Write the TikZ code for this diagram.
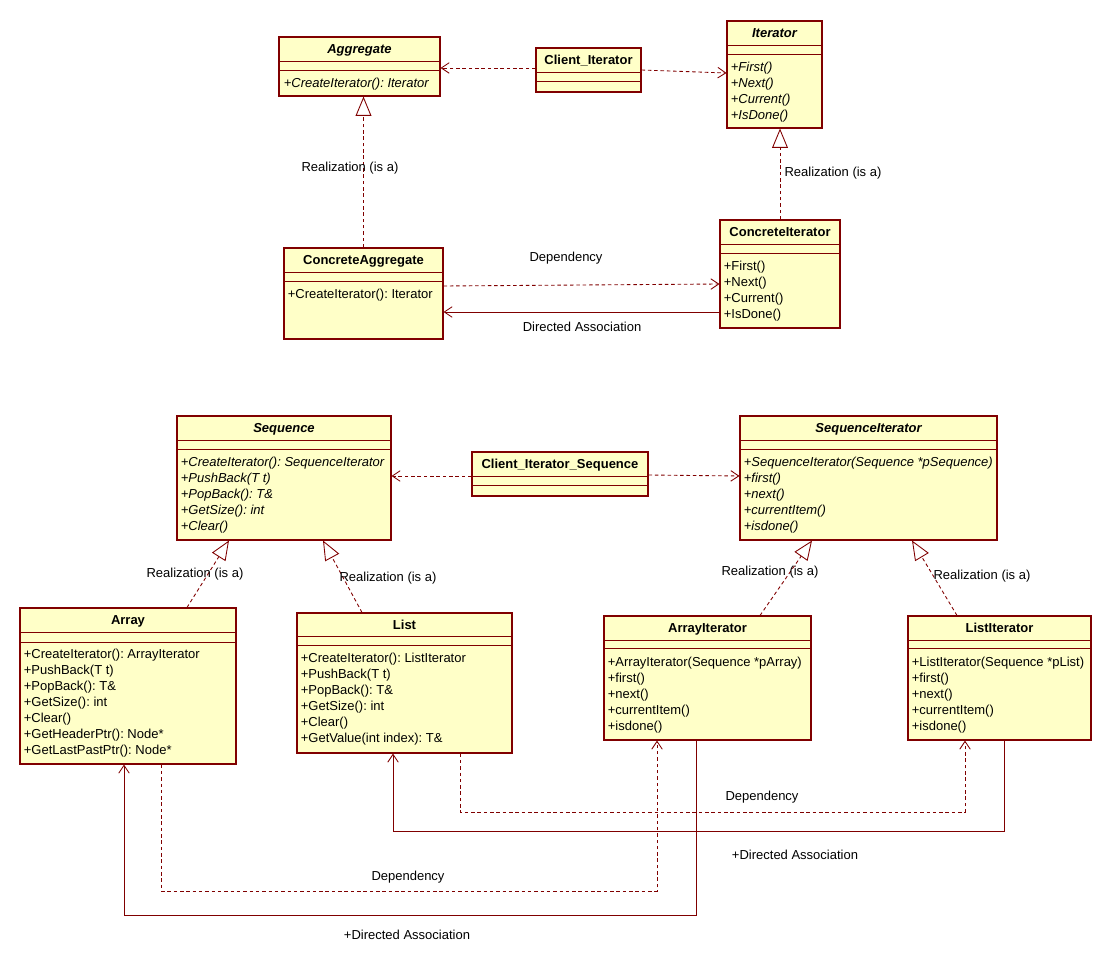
\documentclass[tikz,border=0pt]{standalone}
\usepackage{fontspec}
\setmainfont{Liberation Sans}
\frenchspacing
\usetikzlibrary{arrows.meta,calc,fit}

\definecolor{umlred}{RGB}{128,0,0}
\definecolor{umlfill}{RGB}{255,255,200}

\tikzset{
  cls/.style={draw=umlred, fill=umlfill, line width=0.6pt, inner sep=0pt},
  cline/.style={draw=umlred, line width=0.6pt},
  ttl/.style={anchor=base, inner sep=0pt, font=\fontsize{7.4}{9}\selectfont\bfseries},
  ttla/.style={ttl, font=\fontsize{7.4}{9}\selectfont\bfseries\itshape},
  op/.style={anchor=base west, inner sep=0pt, font=\fontsize{7.4}{9}\selectfont},
  opa/.style={op, font=\fontsize{7.4}{9}\selectfont\itshape},
  lbl/.style={inner sep=0pt, font=\fontsize{7.4}{9}\selectfont},
  dep/.style={draw=umlred, line width=0.5pt, dash pattern=on 2pt off 1.6pt,
    -{Straight Barb[length=4.5pt,width=6pt]}},
  assoc/.style={draw=umlred, line width=0.5pt, -{Straight Barb[length=4.5pt,width=6pt]}},
  real/.style={draw=umlred, line width=0.5pt, dash pattern=on 2pt off 1.6pt,
    -{Triangle[open,length=11pt,width=9pt]}}
}

\begin{document}
\begin{tikzpicture}[x=0.02cm, y=-0.02cm]
  \useasboundingbox (0,0) rectangle (1111,962);

  % top: Aggregate / Iterator
  \node[cls, fit={(279,37) (440,96)}] (aggr) {};
  \node[ttla] (aggr-t) at ($(aggr.north)+(0,17)$) {Aggregate};
  \draw[cline] ($(aggr.north west)+(0,25)$) -- ($(aggr.north east)+(0,25)$);
  \draw[cline] ($(aggr.north west)+(0,34)$) -- ($(aggr.north east)+(0,34)$);
  \node[opa] (aggr-0) at ($(aggr.north west)+(5,51)$) {+CreateIterator(): Iterator};

  \node[cls, fit={(536,48) (641,92)}] (cli) {};
  \node[ttl] (cli-t) at ($(cli.north)+(0,17)$) {Client\_Iterator};
  \draw[cline] ($(cli.north west)+(0,25)$) -- ($(cli.north east)+(0,25)$);
  \draw[cline] ($(cli.north west)+(0,34)$) -- ($(cli.north east)+(0,34)$);

  \node[cls, fit={(727,21) (822,128)}] (iter) {};
  \node[ttla] (iter-t) at ($(iter.north)+(0,17)$) {Iterator};
  \draw[cline] ($(iter.north west)+(0,25)$) -- ($(iter.north east)+(0,25)$);
  \draw[cline] ($(iter.north west)+(0,34)$) -- ($(iter.north east)+(0,34)$);
  \foreach \m [count=\i from 0] in {+First(),+Next(),+Current(),+IsDone()}
    \node[opa] (iter-\i) at ($(iter.north west)+(4,51+16*\i)$) {\m};

  \node[cls, fit={(284,248) (443,339)}] (caggr) {};
  \node[ttl] (caggr-t) at ($(caggr.north)+(0,17)$) {ConcreteAggregate};
  \draw[cline] ($(caggr.north west)+(0,25)$) -- ($(caggr.north east)+(0,25)$);
  \draw[cline] ($(caggr.north west)+(0,34)$) -- ($(caggr.north east)+(0,34)$);
  \node[op] (caggr-0) at ($(caggr.north west)+(4,51)$) {+CreateIterator(): Iterator};

  \node[cls, fit={(720,220) (840,328)}] (citer) {};
  \node[ttl] (citer-t) at ($(citer.north)+(0,17)$) {ConcreteIterator};
  \draw[cline] ($(citer.north west)+(0,25)$) -- ($(citer.north east)+(0,25)$);
  \draw[cline] ($(citer.north west)+(0,34)$) -- ($(citer.north east)+(0,34)$);
  \foreach \m [count=\i from 0] in {+First(),+Next(),+Current(),+IsDone()}
    \node[op] (citer-\i) at ($(citer.north west)+(4,51+16*\i)$) {\m};

  \draw[dep] (cli.west |- 0,68) -- (aggr.east |- 0,68);
  \draw[dep] (cli.east |- 0,70) -- (iter.west |- 0,73);
  \draw[real] (caggr.north) -- (caggr.north |- aggr.south);
  \draw[real] (citer.north) -- (citer.north |- iter.south);
  \draw[dep] (caggr.east |- 0,286) -- (citer.west |- 0,284);
  \draw[assoc] (citer.west |- 0,312) -- (caggr.east |- 0,312);

  \node[lbl] (l1) at (350,168) {Realization (is a)};
  \node[lbl] (l2) at (833,173) {Realization (is a)};
  \node[lbl] (l3) at (566,258) {Dependency};
  \node[lbl] (l4) at (582,327) {Directed Association};

  % bottom: Sequence / SequenceIterator
  \node[cls, fit={(177,416) (391,540)}] (seq) {};
  \node[ttla] (seq-t) at ($(seq.north)+(0,17)$) {Sequence};
  \draw[cline] ($(seq.north west)+(0,25)$) -- ($(seq.north east)+(0,25)$);
  \draw[cline] ($(seq.north west)+(0,34)$) -- ($(seq.north east)+(0,34)$);
  \foreach \m [count=\i from 0] in {+CreateIterator(): SequenceIterator,+PushBack(T t),+PopBack(): T\&,+GetSize(): int,+Clear()}
    \node[opa] (seq-\i) at ($(seq.north west)+(4,51+16*\i)$) {\m};

  \node[cls, fit={(472,452) (648,496)}] (cis) {};
  \node[ttl] (cis-t) at ($(cis.north)+(0,17)$) {Client\_Iterator\_Sequence};
  \draw[cline] ($(cis.north west)+(0,25)$) -- ($(cis.north east)+(0,25)$);
  \draw[cline] ($(cis.north west)+(0,34)$) -- ($(cis.north east)+(0,34)$);

  \node[cls, fit={(740,416) (997,540)}] (seqit) {};
  \node[ttla] (seqit-t) at ($(seqit.north)+(0,17)$) {SequenceIterator};
  \draw[cline] ($(seqit.north west)+(0,25)$) -- ($(seqit.north east)+(0,25)$);
  \draw[cline] ($(seqit.north west)+(0,34)$) -- ($(seqit.north east)+(0,34)$);
  \foreach \m [count=\i from 0] in {+SequenceIterator(Sequence *pSequence),+first(),+next(),+currentItem(),+isdone()}
    \node[opa] (seqit-\i) at ($(seqit.north west)+(4,51+16*\i)$) {\m};

  \node[cls, fit={(20,608) (236,764)}] (arr) {};
  \node[ttl] (arr-t) at ($(arr.north)+(0,17)$) {Array};
  \draw[cline] ($(arr.north west)+(0,25)$) -- ($(arr.north east)+(0,25)$);
  \draw[cline] ($(arr.north west)+(0,35)$) -- ($(arr.north east)+(0,35)$);
  \foreach \m [count=\i from 0] in {+CreateIterator(): ArrayIterator,+PushBack(T t),+PopBack(): T\&,+GetSize(): int,+Clear(),+GetHeaderPtr(): Node*,+GetLastPastPtr(): Node*}
    \node[op] (arr-\i) at ($(arr.north west)+(4,51+16*\i)$) {\m};

  \node[cls, fit={(297,613) (512,753)}] (list) {};
  \node[ttl] (list-t) at ($(list.north)+(0,17)$) {List};
  \draw[cline] ($(list.north west)+(0,24)$) -- ($(list.north east)+(0,24)$);
  \draw[cline] ($(list.north west)+(0,33)$) -- ($(list.north east)+(0,33)$);
  \foreach \m [count=\i from 0] in {+CreateIterator(): ListIterator,+PushBack(T t),+PopBack(): T\&,+GetSize(): int,+Clear(),+GetValue(int index): T\&}
    \node[op] (list-\i) at ($(list.north west)+(4,50+16*\i)$) {\m};

  \node[cls, fit={(604,616) (811,740)}] (arrit) {};
  \node[ttl] (arrit-t) at ($(arrit.north)+(0,17)$) {ArrayIterator};
  \draw[cline] ($(arrit.north west)+(0,25)$) -- ($(arrit.north east)+(0,25)$);
  \draw[cline] ($(arrit.north west)+(0,33)$) -- ($(arrit.north east)+(0,33)$);
  \foreach \m [count=\i from 0] in {+ArrayIterator(Sequence *pArray),+first(),+next(),+currentItem(),+isdone()}
    \node[op] (arrit-\i) at ($(arrit.north west)+(4,51+16*\i)$) {\m};

  \node[cls, fit={(908,616) (1091,740)}] (listit) {};
  \node[ttl] (listit-t) at ($(listit.north)+(0,17)$) {ListIterator};
  \draw[cline] ($(listit.north west)+(0,25)$) -- ($(listit.north east)+(0,25)$);
  \draw[cline] ($(listit.north west)+(0,33)$) -- ($(listit.north east)+(0,33)$);
  \foreach \m [count=\i from 0] in {+ListIterator(Sequence *pList),+first(),+next(),+currentItem(),+isdone()}
    \node[op] (listit-\i) at ($(listit.north west)+(4,51+16*\i)$) {\m};

  \draw[dep] (cis.west |- 0,476) -- (seq.east |- 0,476);
  \draw[dep] (cis.east |- 0,475) -- (seqit.west |- 0,476);
  \draw[real] (arr.north -| 187,0) -- (seq.south -| 229,0);
  \draw[real] (list.north -| 362,0) -- (seq.south -| 323,0);
  \draw[real] (arrit.north -| 760,0) -- (seqit.south -| 812,0);
  \draw[real] (listit.north -| 957,0) -- (seqit.south -| 912,0);

  \draw[dep] (list.south -| 460,0) -- (460,812) -| (listit.south -| 965,0);
  \draw[assoc] (listit.south -| 1004,0) -- (1004,831) -| (list.south -| 393,0);
  \draw[dep] (arr.south -| 161,0) -- (161,891) -| (arrit.south -| 657,0);
  \draw[assoc] (arrit.south -| 696,0) -- (696,915) -| (arr.south -| 124,0);

  \node[lbl] (l5) at (195,574) {Realization (is a)};
  \node[lbl] (l6) at (388,578) {Realization (is a)};
  \node[lbl] (l7) at (770,572) {Realization (is a)};
  \node[lbl] (l8) at (982,576) {Realization (is a)};
  \node[lbl] (l9) at (762,797) {Dependency};
  \node[lbl] (l10) at (795,855) {+Directed Association};
  \node[lbl] (l11) at (408,877) {Dependency};
  \node[lbl] (l12) at (407,935) {+Directed Association};
\end{tikzpicture}
\end{document}
